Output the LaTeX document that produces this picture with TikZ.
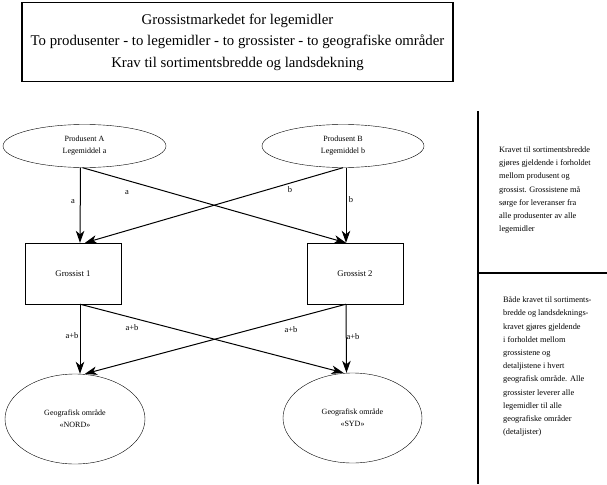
\documentclass[tikz,border=0pt]{standalone}
\usepackage{fontspec}
\setmainfont{Liberation Serif}
\usetikzlibrary{positioning}
\usetikzlibrary{shapes.geometric}
\usetikzlibrary{arrows.meta}
\tikzset{ell/.style={draw,ellipse,inner sep=0pt,align=center,font=\fontsize{8}{12}\selectfont}}
\tikzset{grossist/.style={draw,rectangle,minimum width=96pt,minimum height=61pt,inner sep=0pt,font=\fontsize{8.7}{10}\selectfont}}
\tikzset{ed/.style={inner sep=0pt,font=\fontsize{8.5}{10}\selectfont}}
\tikzset{note/.style={inner sep=0pt,anchor=north west,align=left,font=\fontsize{8.3}{13.2}\selectfont}}
\tikzset{>={Stealth[length=12pt,width=8.5pt,inset=3.5pt]}}

\begin{document}
\begin{tikzpicture}[x=1pt, y=-1pt]
        \useasboundingbox (0,0) rectangle (607,484);
        % title
        \node[draw, line width=1.4pt, minimum width=431pt, minimum height=79pt, align=center,
              font=\fontsize{14.8}{21.5}\selectfont] (T) at (237.5,42)
              {Grossistmarkedet for legemidler\\
               To produsenter - to legemidler - to grossister - to geografiske områder\\
               Krav til sortimentsbredde og landsdekning};
        % producers
        \node[ell, minimum width=163pt, minimum height=43pt] (PA) at (84.5,146) {Produsent A\\Legemiddel a};
        \node[ell, minimum width=162pt, minimum height=43pt] (PB) at (343,146) {Produsent B\\Legemiddel b};
        % wholesalers
        \node[grossist] (G1) at (73,273.5) {Grossist 1};
        \node[grossist] (G2) at (355,273.5) {Grossist 2};
        % areas
        \node[ell, minimum width=140pt, minimum height=90pt] (N) at (75,419) {Geografisk område\\«NORD»};
        \node[ell, minimum width=139pt, minimum height=90pt] (S) at (352.5,418) {Geografisk område\\«SYD»};
        % deliveries
        \draw[->, line width=1pt] ([xshift=-4pt]PA.south) -- ([xshift=7pt]G1.north);
        \draw[->, line width=1pt] ([xshift=-2pt]PA.south) -- ([xshift=-9pt]G2.north);
        \draw[->, line width=1pt] ([xshift=3pt]PB.south) -- ([xshift=-9pt]G2.north);
        \draw[->, line width=1pt] ([xshift=0pt]PB.south) -- ([xshift=12pt]G1.north);
        \draw[->, line width=1pt] ([xshift=7pt]G1.south) -- ([xshift=5pt]N.north);
        \draw[->, line width=1pt] ([xshift=7pt]G1.south) -- ([xshift=-9pt]S.north);
        \draw[->, line width=1pt] ([xshift=-9pt]G2.south) -- ([xshift=-6pt]S.north);
        \draw[->, line width=1pt] ([xshift=-9pt]G2.south) -- ([xshift=10pt]N.north);
        % labels
        \node[ed] (la1) at (73,202) {a};
        \node[ed] (la2) at (127,193) {a};
        \node[ed] (lb1) at (290,190) {b};
        \node[ed] (lb2) at (351,200) {b};
        \node[ed] (lab1) at (72,336) {a+b};
        \node[ed] (lab2) at (132,328) {a+b};
        \node[ed] (lab3) at (291,330) {a+b};
        \node[ed] (lab4) at (353,337) {a+b};
        % right column
        \coordinate (top) at (478,111);
        \coordinate (bot) at (478,484);
        \coordinate (mid) at (478,273);
        \coordinate (midr) at (607,273);
        \draw[line width=1.4pt] (top) -- (bot);
        \draw[line width=1.4pt] (mid) -- (midr);
        \node[note] (K1) at (499,146.5) {Kravet til sortimentsbredde\\
              gjøres gjeldende i forholdet\\mellom produsent og\\
              grossist. Grossistene må\\sørge for leveranser fra\\
              alle produsenter av alle\\legemidler};
        \node[note] (K2) at (503,296.5) {Både kravet til sortiments-\\
              bredde og landsdeknings-\\kravet gjøres gjeldende\\
              i forholdet mellom\\grossistene og\\detaljistene i hvert\\
              geografisk område. Alle\\grossister leverer alle\\
              legemidler til alle\\geografiske områder\\(detaljister)};
\end{tikzpicture}
\end{document}
